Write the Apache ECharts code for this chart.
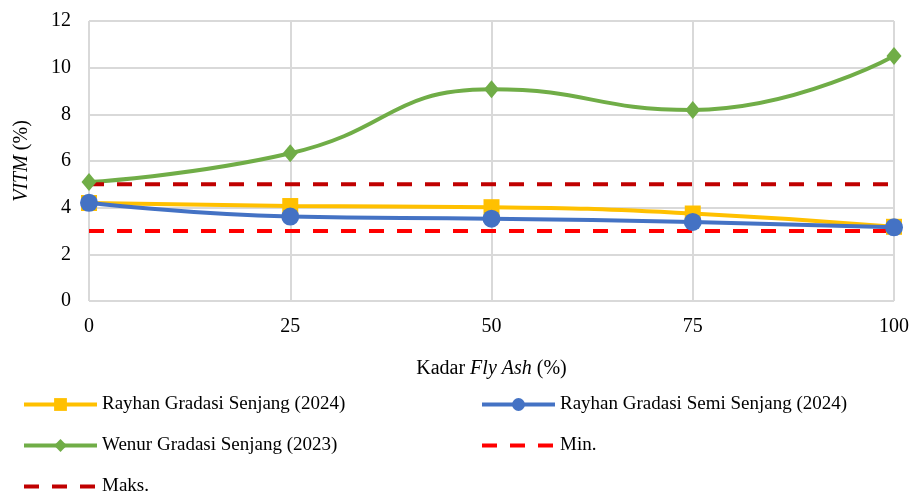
<!DOCTYPE html>
<html><head><meta charset="utf-8">
<script src="https://cdn.jsdelivr.net/npm/echarts@6/dist/echarts.min.js"></script>
<style>html,body{margin:0;padding:0;background:#fff}#c{width:920px;height:496px}</style>
</head><body><div id="c"></div>
<script>
const xValues = [0, 25, 50, 75, 100];
const rayhanSenjang = [4.2, 4.07, 4.02, 3.75, 3.18];
const rayhanSemi = [4.21, 3.62, 3.53, 3.39, 3.16];
const wenur = [5.1, 6.33, 9.07, 8.19, 10.5];
const minVals = [3, 3, 3, 3, 3];
const maksVals = [5, 5, 5, 5, 5];
const names = ['Rayhan Gradasi Senjang (2024)', 'Rayhan Gradasi Semi Senjang (2024)', 'Wenur Gradasi Senjang (2023)', 'Min.', 'Maks.'];

const pair = arr => xValues.map((x, i) => [x, arr[i]]);
const font = 'Liberation Serif';
const chart = echarts.init(document.getElementById('c'));
const legendBase = {itemWidth: 73, itemHeight: 16, itemGap: 0, padding: 0, lineStyle: {width: 4},
  textStyle: {fontFamily: font, fontSize: 19, color: '#000'}};
const lg = (name, left, top, hideSym) => Object.assign({data: [hideSym ? {name: name, itemStyle: {opacity: 0}} : name], left: left, top: top}, legendBase);
chart.setOption({
  animation: false,
  grid: {left: 89, right: 26, top: 21, bottom: 195},
  xAxis: {
    type: 'value', min: 0, max: 100, interval: 25,
    name: '{n|Kadar }{i|Fly Ash}{n| (%)}', nameLocation: 'middle', nameGap: 58,
    nameTextStyle: {rich: {n: {fontFamily: font, fontSize: 20, color: '#000'}, i: {fontFamily: font, fontSize: 20, fontStyle: 'italic', color: '#000'}}},
    axisLine: {show: false}, axisTick: {show: false},
    axisLabel: {fontFamily: font, fontSize: 20, color: '#000', margin: 16},
    splitLine: {show: true, lineStyle: {color: '#d9d9d9', width: 2}}
  },
  yAxis: {
    type: 'value', min: 0, max: 12, interval: 2,
    name: '{i|VITM}{n| (%)}', nameLocation: 'middle', nameGap: 57, nameRotate: 90,
    nameTextStyle: {rich: {n: {fontFamily: font, fontSize: 20, color: '#000'}, i: {fontFamily: font, fontSize: 20, fontStyle: 'italic', color: '#000'}}},
    axisLine: {show: false}, axisTick: {show: false},
    axisLabel: {fontFamily: font, fontSize: 20, color: '#000', margin: 18},
    splitLine: {show: true, lineStyle: {color: '#d9d9d9', width: 2}}
  },
  legend: [
    lg(names[0], 22, 395, false),
    lg(names[1], 480, 395, false),
    lg(names[2], 22, 436, false),
    lg(names[3], 480, 436, true),
    lg(names[4], 22, 477, true)
  ],
  series: [
    {name: names[0], type: 'line', smooth: true, data: pair(rayhanSenjang), symbol: 'rect', symbolSize: 16,
     itemStyle: {color: '#FFC000'}, lineStyle: {color: '#FFC000', width: 4}},
    {name: names[1], type: 'line', smooth: true, data: pair(rayhanSemi), symbol: 'circle', symbolSize: 18,
     itemStyle: {color: '#4472C4'}, lineStyle: {color: '#4472C4', width: 4}},
    {name: names[2], type: 'line', smooth: true, data: pair(wenur), symbol: 'diamond', symbolSize: [15, 18],
     itemStyle: {color: '#70AD47'}, lineStyle: {color: '#70AD47', width: 4}},
    {name: names[3], type: 'line', data: pair(minVals), symbol: 'none', itemStyle: {color: '#FF0000'},
     lineStyle: {color: '#FF0000', width: 4, type: [15, 13]}},
    {name: names[4], type: 'line', data: pair(maksVals), symbol: 'none', itemStyle: {color: '#C00000'},
     lineStyle: {color: '#C00000', width: 4, type: [15, 13]}}
  ]
});
</script></body></html>
